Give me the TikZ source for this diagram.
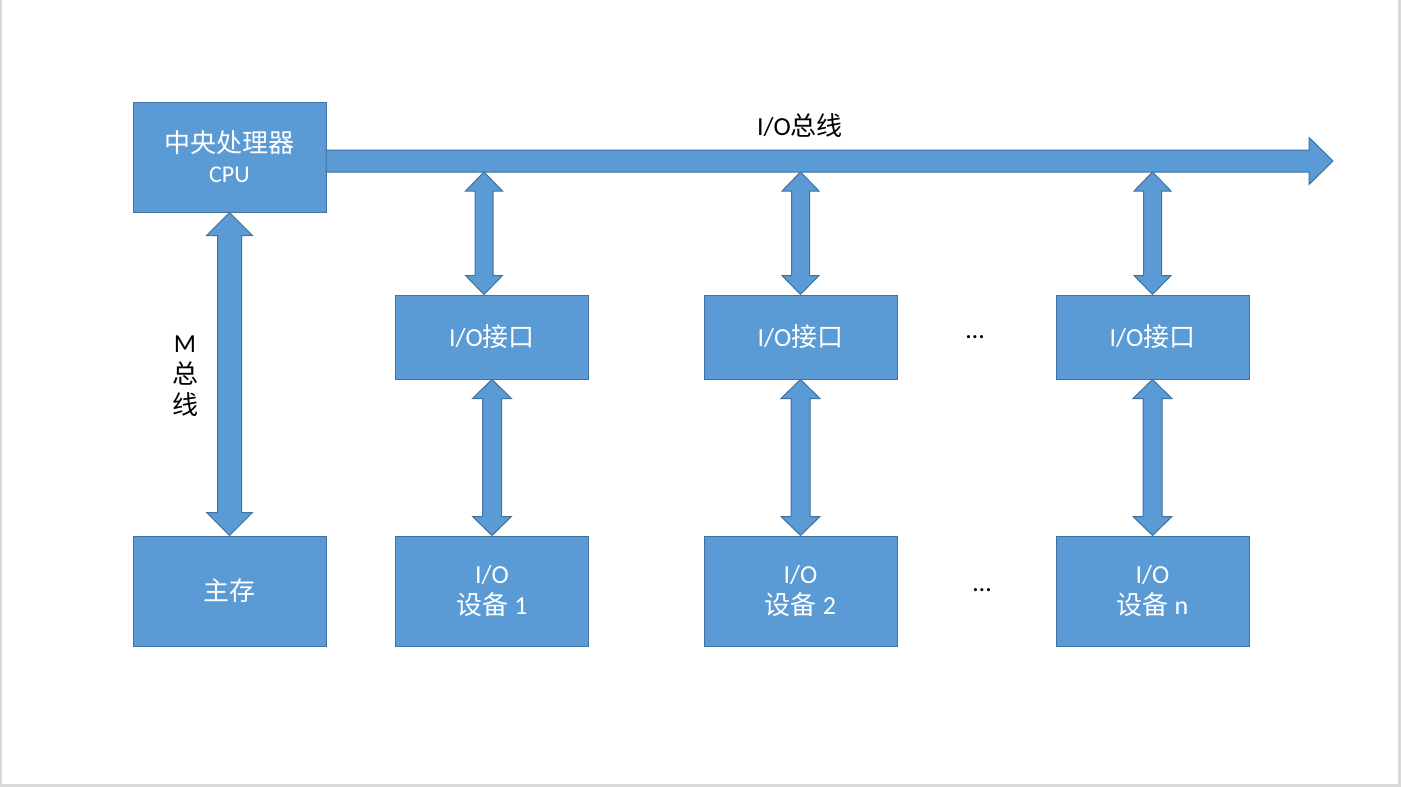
\documentclass[tikz,border=0pt]{standalone}
\usepackage{fontspec}
\setmainfont{Carlito}
\newfontfamily\cjk{Noto Sans CJK SC}
\usetikzlibrary{calc}
\definecolor{boxfill}{HTML}{5B9BD5}
\definecolor{boxline}{HTML}{41719C}
\definecolor{framegray}{HTML}{D9D9D9}
\tikzset{
  box/.style={draw=boxline, fill=boxfill, line width=1pt, text=white, align=center,
    minimum width=193pt, inner sep=0pt, font=\fontsize{26}{31}\selectfont},
  cpubox/.style={box, minimum height=110pt},
  ifbox/.style={box, minimum height=84pt},
  devbox/.style={box, minimum height=110pt},
  barrow/.style={draw=boxline, fill=boxfill, line width=1pt, line join=miter},
  lbl/.style={inner sep=0pt, font=\fontsize{26}{31}\selectfont}
}
% vertical double block arrow: #1 top, #2 bottom, #3 half shaft, #4 half head, #5 head length
\newcommand\vdarrow[5]{%
  \draw[barrow] let \p1=#1, \p2=#2 in
   (\x1,\y1) -- (\x1+#4,\y1-#5) -- (\x1+#3,\y1-#5) -- (\x1+#3,\y2+#5) -- (\x1+#4,\y2+#5)
   -- (\x1,\y2) -- (\x1-#4,\y2+#5) -- (\x1-#3,\y2+#5) -- (\x1-#3,\y1-#5) -- (\x1-#4,\y1-#5) -- cycle;}
\begin{document}
\begin{tikzpicture}[x=1pt,y=-1pt]
\useasboundingbox (0,0) rectangle (1401,787);
\fill[white] (0,0) rectangle (1401,787);
% frame
\draw[framegray, line width=1.5pt] (0.75,0) -- (0.75,787);
\draw[framegray, line width=3pt] (1399.5,0) -- (1399.5,787);
\draw[framegray, line width=3pt] (0,785.5) -- (1401,785.5);

% nodes
\node[cpubox] (cpu) at (229.5,157) {{\cjk 中央处理器}\\[-1pt]{\fontsize{24}{28}\selectfont CPU}};
\node[devbox] (mem) at (229.5,591) {\cjk 主存};
\node[ifbox] (if1) at (492,337) {I/O{\cjk 接口}};
\node[ifbox] (if2) at (800.5,337) {I/O{\cjk 接口}};
\node[ifbox] (if3) at (1152.5,337) {I/O{\cjk 接口}};
\node[devbox] (dev1) at (492,591) {I/O\\{\cjk 设备} 1};
\node[devbox] (dev2) at (800.5,591) {I/O\\{\cjk 设备} 2};
\node[devbox] (dev3) at (1152.5,591) {I/O\\{\cjk 设备} n};

% bus arrow
\coordinate (busL) at (326,161);
\coordinate (busR) at (1333,161);
\draw[barrow] let \p1=(busL), \p2=(busR) in
  (\x1,\y1+11pt) -- (\x2-24pt,\y1+11pt) -- (\x2-24pt,\y1+23.5pt) -- (\x2,\y2)
  -- (\x2-24pt,\y1-23.5pt) -- (\x2-24pt,\y1-11pt) -- (\x1,\y1-11pt) -- cycle;
\node[lbl] (buslbl) at (800,126) {I/O{\cjk 总线}};

% taps on bus
\coordinate (t1) at (484,172);
\coordinate (t2) at (800.5,172);
\coordinate (t3) at (1152.5,172);

% M bus
\vdarrow{(cpu.south)}{(mem.north)}{12pt}{23pt}{23pt}
\node[lbl, align=center] (mlbl) at (185,376) {M\\{\cjk 总}\\{\cjk 线}};

% bus to interface
\vdarrow{(t1)}{(if1.north -| t1)}{9pt}{18.5pt}{19pt}
\vdarrow{(t2)}{(if2.north)}{9pt}{18.5pt}{19pt}
\vdarrow{(t3)}{(if3.north)}{9pt}{18.5pt}{19pt}

% interface to device
\vdarrow{(if1.south)}{(dev1.north)}{9.5pt}{19.5pt}{19pt}
\vdarrow{(if2.south)}{(dev2.north)}{9.5pt}{19.5pt}{19pt}
\vdarrow{(if3.south)}{(dev3.north)}{9.5pt}{19.5pt}{19pt}

% ellipses
\node[lbl] (dots1) at (975,337) {…};
\node[lbl] (dots2) at (982,590) {…};
\end{tikzpicture}
\end{document}
